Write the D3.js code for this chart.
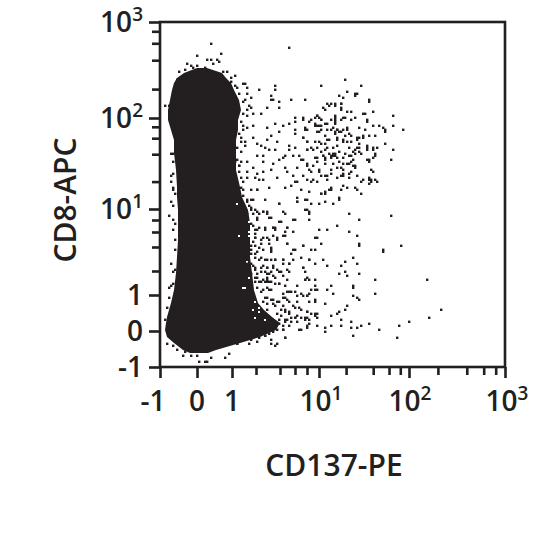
<!DOCTYPE html>
<html><head><meta charset="utf-8">
<script src="https://cdn.jsdelivr.net/npm/d3@7"></script>
<style>html,body{margin:0;background:#fff}svg{display:block}
text{font-family:"Open Sans",sans-serif;font-weight:600;fill:#231f20}</style>
</head><body><div id="c"></div>
<script>
const ink = "#231f20";
const xMajor = [-1, 0, 1, 10, 100, 1000];
const yMajor = [-1, 0, 1, 10, 100, 1000];
const minorTicks = [2, 4, 6, 8, 20, 40, 60, 80, 200, 400, 600, 800];
const xLabels = [["-1",""],["0",""],["1",""],["10","1"],["10","2"],["10","3"]];
const yLabels = xLabels;
const xTitle = "CD137-PE";
const yTitle = "CD8-APC";
// dense population outline, in instrument channels
const blobRow = [7,8.5,12,15,18.5,22,25,28.5,32,38.5,47,55,63.5,72,78.5,85,90,98.5,107,113.5,118.5,123.5,128.5,133.5,138.5,142,144.5,147,149.5];
const blobLeft = [15,11.5,7,3.5,2.5,3,3.5,4.5,5.5,7,8,8.5,9,9,9,8.5,8.5,8,7,7,5.5,4,4,5,6,7,8.5,12,18.5];
const blobRight = [24,28,40,50,58,60,56,52,49,47,46,45,45,45,44,41,40,38,38,38,39,39,40.5,39.5,37,35.5,33,31,23.5];
// sparse events [x channel, y channel]
const events = [
[92,143],[100,140],[93,137],[97,136],[97,135],[98,136],[89,135],[91,134],[104,133],[104,132],[87,131],[85,131],[90,131],[90,128],[90,129],[93,127],[95,127],[101,126],[102,126],[106,127],[116,125],[87,124],[87,122],[87,123],[91,124],[92,124],[95,123],[97,124],[103,122],[103,123],[106,120],[116,120],[111,119],[112,118],[112,117],[121,118],[99,119],[102,118],[93,118],[93,119],[89,117],[90,117],[88,118],[87,117],[86,119],[104,115],[107,115],[101,115],[98,114],[99,114],[95,115],[92,115],[88,114],[112,111],[91,112],[93,112],[103,109],[103,110],[106,109],[108,109],[99,109],[97,108],[98,109],[94,109],[88,110],[86,109],[116,108],[100,106],[97,106],[107,105],[107,106],[94,105],[95,105],[91,104],[87,105],[86,105],[87,106],[85,105],[115,103],[104,102],[104,103],[96,103],[93,101],[94,101],[89,102],[86,101],[97,100],[96,100],[105,98],[90,99],[95,97],[98,95],[94,94],[91,96],[91,95],[90,95],[88,94],[85,96],[104,94],[108,92],[105,92],[105,93],[100,92],[104,91],[93,89],[90,88],[85,88],[98,88],[100,86],[89,84],
[84,130],[87,130],[90,131],[82,128],[78,125],[79,124],[75,123],[74,122],[77,121],[80,123],[87,125],[85,123],[90,123],[71,123],[72,118],[78,120],[80,120],[83,121],[87,121],[88,118],[91,118],[87,116],[78,117],[79,117],[82,115],[85,118],[94,116],[98,113],[101,114],[109,120],[71,114],[73,112],[77,112],[79,112],[82,111],[84,113],[88,113],[91,113],[95,112],[99,111],[103,108],[106,108],[75,109],[73,108],[80,107],[83,109],[86,106],[88,104],[85,104],[89,107],[92,106],[96,107],[99,107],[78,104],[81,105],[82,103],[71,103],[73,101],[76,100],[78,102],[91,101],[95,102],[97,99],[103,103],[106,104],[74,98],[79,98],[82,95],[85,98],[88,99],[91,98],[94,96],[106,97],[83,93],[76,93],[101,93],[107,93],[104,93],[85,89],[91,90],[97,89],[73,93],
[86,81],[89,83],[94,76],[99,73],[115,75],[88,70],[94,67],[98,65],[99,60],[99,61],[111,58],[111,57],[120,60],[96,54],[92,52],[98,51],[90,50],[92,47],[89,46],[93,45],[99,46],[107,43],[133,43],[96,40],[96,39],[85,40],[86,36],[107,36],[96,35],[99,33],[98,34],[93,30],[92,28],[89,27],[88,26],[85,25],[90,23],[140,28],[134,24],[95,22],[104,21],[124,22],[100,20],[119,20],[90,20],[95,19],[98,19],[109,18],[85,20],[96,15],[118,14],
[25,161],[64,159],[18,155],[30,156],[23,153],[25,153],[28,153],[26,151],[29,152],[13,151],[15,150],[18,150],[22,149],[9,147],[12,148],[16,149],[80,140],[31,147],[33,147],[37,145],[35,144],[41,141],[42,141],[38,139],[43,139],[49,138],[57,140],[57,138],[43,136],[45,134],[55,135],[55,133],[56,133],[65,133],[72,133],[59,132],[44,130],[43,128],[45,129],[53,129],[59,129],[83,131],[81,129],[41,126],[43,125],[46,126],[50,126],[78,125],[77,124],[80,123],[67,124],[71,124],[46,120],[43,119],[41,118],[53,119],[57,121],[64,121],[61,120],[67,122],[67,118],[67,116],[72,119],[73,118],[77,120],[79,120],[82,121],[83,118],[80,118],[55,115],[59,117],[46,114],[71,114],[42,112],[42,110],[48,111],[53,113],[58,112],[64,110],[64,108],[52,109],[54,108],[50,110],[57,108],[67,109],[73,112],[76,108],[73,108],[78,109],[80,111],[83,113],[82,108],[48,105],[51,105],[62,105],[66,105],[69,105],[61,104],[59,103],[77,104],[81,105],[82,104],[84,106],[43,102],[39,100],[37,102],[51,102],[56,101],[70,103],[73,100],[82,101],[46,99],[43,97],[48,96],[51,97],[55,98],[62,99],[63,97],[68,99],[75,97],[79,97],[83,95],[80,95],[66,95],[71,95],[58,94],[43,94],[47,94],[49,93],[51,93],[67,92],[68,92],[75,92],[78,92],[62,89],[65,90],[54,89],[48,88],[40,89],[70,88],[74,87],[80,86],[82,87],[84,88],[41,85],
[35,142],[37,140],[39,136],[41,132],[42,133],[40,122],[41,120],[39,116],[40,114],[40,112],[38,109],[40,107],[38,103],[40,102],[39,100],[39,97],[40,94],[41,92],[41,88],[43,76],[46,70],[47,66],[46,62],[47,54],[47,48],
[45,88],[48,88],[52,83],[59,81],[68,84],[72,83],[68,82],[75,81],[79,81],[82,86],[80,86],[82,82],[45,83],[43,82],[45,79],[48,77],[51,77],[53,77],[61,77],[72,78],[74,77],[48,73],[54,74],[60,72],[66,73],[74,73],[45,71],[48,68],[52,68],[56,69],[57,68],[63,69],[62,67],[79,68],[83,68],[78,64],[47,64],[50,63],[53,64],[56,65],[58,64],[61,65],[54,61],[63,61],[80,61],[45,60],[49,59],[55,58],[66,58],[71,60],[75,58],[47,56],[50,54],[70,54],[61,53],[53,53],[57,53],[66,53],[74,53],[81,53],[45,51],[51,50],[53,49],[56,50],[61,51],[64,51],[77,51],[83,50],[71,49],[50,47],[53,46],[55,47],[59,47],[64,47],[72,47],[48,44],[53,44],[61,45],[73,44],[74,43],[50,42],[53,42],[55,42],[59,41],[62,40],[77,40],[68,40],[48,39],[53,39],[50,37],[55,38],[75,38],[78,38],[83,38],[63,37],[65,37],[61,34],[68,35],[71,35],[73,35],[53,34],[56,33],[58,32],[63,33],[77,32],[82,31],[48,30],[61,30],[69,29],[66,30],[73,27],[77,26],[78,26],[50,27],[53,28],[58,26],[62,27],[64,26],[68,25],[70,24],[73,24],[78,24],[59,23],[63,23],[67,24],[74,21],[78,20],[82,19],[82,17],[70,18],[73,19],[61,20],[61,18],[64,20],[62,14],[58,11],[55,13],[52,15],[48,15],[49,17],[45,13],[42,13],[44,11],[38,11],[34,6],[32,4],[25,4],[23,2],[22,2],[19,2],[18,5],[15,5],[12,7],[11,5],[8,8],[6,10],[3,11],
[2,130],[4,130],[4,126],[5,120],[7,112],[8,110],[5,106],[6,106],[6,102],[5,95],[6,96],[5,92],[6,89],[7,86],[6,132],[7,138],[8,143],[6,88],[5,82],[6,80],[4,75],[6,73],[7,71],[6,68],[7,63],[7,58],[5,51],[7,48],[6,47],[6,41],[4,39],[5,40],[4,34],[3,29],[2,23],
[47,42],[49,42],[52,42],[54,42],[57,41],[59,41],[63,43],[72,43],[77,43],[51,38],[54,38],[61,36],[64,37],[67,37],[70,36],[73,35],[77,38],[74,36],[52,34],[55,33],[59,32],[62,34],[64,32],[68,32],[74,32],[77,33],[51,32],[53,31],[56,31],[57,30],[60,28],[62,28],[64,27],[67,29],[70,28],[73,27],[75,26],[77,25],[60,25],[62,23],[65,24],[67,24],[72,24],[74,23],[72,23],[59,21],[62,22],[65,22],[68,22],[73,20],[69,18],[58,18],[61,18],[56,17],[47,16],[45,14],[42,14],[40,13],[38,11],[52,15],[49,14],[48,12],[54,16],[55,11],[62,14],[57,10],
[43,83],[46,83],[44,80],[47,78],[49,76],[51,77],[53,76],[46,76],[48,74],[45,78],[55,74],[59,81],[68,82],[73,83],[62,76],[73,78],[74,76],[67,73],[59,72],[42,71],[43,69],[47,68],[49,69],[52,69],[56,69],[57,69],[63,69],[62,65],[43,63],[47,64],[51,64],[54,63],[58,63],[66,67],[42,59],[45,58],[47,60],[50,61],[55,59],[63,61],[71,60],[67,58],[77,64],[77,58],[42,56],[45,56],[48,57],[51,58],[55,57],[65,56],[41,52],[49,53],[52,53],[55,53],[57,53],[61,53],[64,51],[74,53],[71,49],[72,43],[43,51],[46,50],[47,49],[50,49],[53,49],[56,49],[58,48],[60,47],[63,48],[41,47],[45,46],[48,46],[52,47],[54,46],[56,45],[47,44],[51,43],[53,43],[57,44]
];
// empty channels inside the dense population
const gaps = [[44,72],[44,67],[44,65],[38,81],[39,65],[41,39],[42,39],[47,32],[49,29],[46,28],[49,27],[52,30],[54,28],[47,24],[52,23],[56,27],[57,24],[43,52],[44,44],[47,38],[48,35]];

const svg = d3.select("#c").append("svg").attr("width",540).attr("height",540);
// biexponential display: linear below 1, compressed log above
const t = v => v <= 1 ? v - 1 : Math.log10(v);
const knots = [-1,0,1,2,4,6,8,10,100,1000].map(t);
const xPos = d3.scaleLinear().domain(knots).range([160,197,232,256,280,295,307,319,409,505]);
const yPos = d3.scaleLinear().domain(knots).range([367,331,295,271,247,232,220,209,118,22]);
const xCh = d3.scaleLinear().domain([0,172.5]).range([160,505]);
const yCh = d3.scaleLinear().domain([0,172.5]).range([367,22]);

const area = d3.area().curve(d3.curveLinear)
  .y((d,i)=>yCh(blobRow[i])).x0((d,i)=>xCh(blobLeft[i])).x1((d,i)=>xCh(blobRight[i]));
svg.append("path").attr("d",area(blobRow)).attr("fill",ink);
svg.append("g").selectAll("rect").data(gaps).join("rect")
  .attr("x",d=>xCh(d[0])).attr("y",d=>yCh(d[1])-2).attr("width",2).attr("height",2).attr("fill","#fff");
svg.append("g").selectAll("rect").data(events).join("rect")
  .attr("x",d=>xCh(d[0])).attr("y",d=>yCh(d[1])-2.4).attr("width",2.4).attr("height",2.4).attr("fill",ink);

svg.append("rect").attr("x",160).attr("y",22).attr("width",345).attr("height",345)
  .attr("fill","none").attr("stroke",ink).attr("stroke-width",2.6);

function styleAxis(g){g.select(".domain").remove();g.selectAll("line").attr("stroke",ink).attr("stroke-width",2.6);}
const gx = svg.append("g").attr("transform","translate(0,367)");
gx.append("g").call(d3.axisBottom(xPos).tickValues(xMajor.map(t)).tickSize(11).tickFormat("")).call(styleAxis);
gx.append("g").call(d3.axisBottom(xPos).tickValues(minorTicks.map(t)).tickSize(8).tickFormat("")).call(styleAxis);
const gy = svg.append("g").attr("transform","translate(160,0)");
gy.append("g").call(d3.axisLeft(yPos).tickValues(yMajor.map(t)).tickSize(11).tickFormat("")).call(styleAxis);
gy.append("g").call(d3.axisLeft(yPos).tickValues(minorTicks.map(t)).tickSize(8).tickFormat("")).call(styleAxis);

function label(sel,l){
  sel.append("tspan").attr("font-size",28).text(l[0]);
  if(l[1]) sel.append("tspan").attr("font-size",19).attr("dy",-11).text(l[1]);
}
xMajor.forEach((v,i)=>{
  svg.append("text").attr("x",xPos(t(v))-[7,0,0,-2,-1,-2][i]).attr("y",411).attr("text-anchor","middle").call(label,xLabels[i]);
});
yMajor.forEach((v,i)=>{
  svg.append("text").attr("x",143).attr("y",yPos(t(v))+10).attr("text-anchor","end").call(label,yLabels[i]);
});
svg.append("text").attr("x",334).attr("y",476).attr("text-anchor","middle").attr("font-size",30).text(xTitle);
svg.append("text").attr("transform","translate(76,200) rotate(-90)").attr("text-anchor","middle").attr("font-size",30).text(yTitle);
</script></body></html>
